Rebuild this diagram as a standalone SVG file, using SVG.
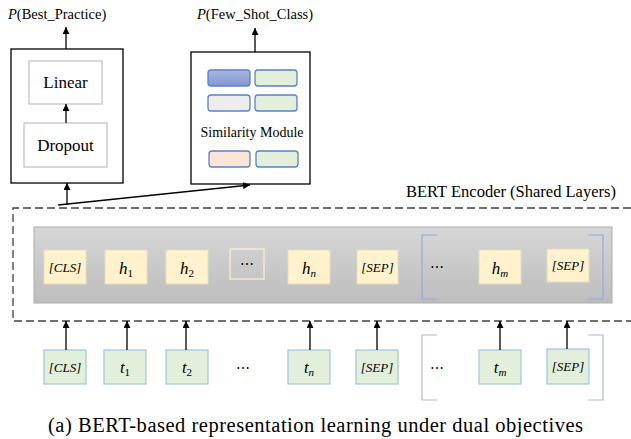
<svg xmlns="http://www.w3.org/2000/svg" width="631" height="439" viewBox="0 0 631 439">
<defs>
<marker id="ah" viewBox="0 0 10 10" refX="10" refY="5" markerWidth="7" markerHeight="7" markerUnits="userSpaceOnUse" orient="auto">
<path d="M0,0 L10,5 L0,10 z" fill="#000"/>
</marker>
<linearGradient id="gp" x1="0" y1="0" x2="0" y2="1">
<stop offset="0" stop-color="#D6D6D6"/>
<stop offset="1" stop-color="#BDBDBD"/>
</linearGradient>
<linearGradient id="gb" x1="0" y1="0" x2="0" y2="1">
<stop offset="0" stop-color="#A9B8E2"/>
<stop offset="1" stop-color="#8196D2"/>
</linearGradient>
<style>
text{font-family:'Liberation Serif','Times New Roman','DejaVu Serif',serif;fill:#000}
.box{fill:#fff;stroke:#000;stroke-width:1.3}
.inner{fill:#fff;stroke:#BFBFBF;stroke-width:1.2}
.y{fill:#FFF2CC;stroke:#E6DDBF;stroke-width:1}
.g{fill:#E2EFDA;stroke:#9DC3E6;stroke-width:1.2}
.sm{stroke:#5B7FD0;stroke-width:1.3}
.ln{stroke:#000;stroke-width:1.3;fill:none}
.dash{fill:none;stroke:#404040;stroke-width:1.3;stroke-dasharray:8 4}
.br{fill:none;stroke:#8FAADC;stroke-width:1.2}
.br2{fill:none;stroke:#ADB9CA;stroke-width:1.2}
</style>
</defs>
<rect width="631" height="439" fill="#fff"/>

<g id="label-best">
<text x="8" y="19" font-size="14.5"><tspan font-style="italic">P</tspan>(Best_Practice)</text>
</g>
<g id="label-few">
<text x="197" y="19" font-size="14.5"><tspan font-style="italic">P</tspan>(Few_Shot_Class)</text>
</g>

<g id="classifier-head">
<rect class="box" x="11" y="49" width="112" height="134"/>
<g id="linear"><rect class="inner" x="29" y="61" width="73" height="43"/>
<text x="65.5" y="88" font-size="17" text-anchor="middle">Linear</text></g>
<g id="dropout"><rect class="inner" x="24" y="123" width="83" height="44"/>
<text x="65.5" y="151" font-size="17" text-anchor="middle">Dropout</text></g>
</g>

<g id="similarity-module">
<rect class="box" x="191" y="52" width="119" height="132"/>
<rect class="sm" x="208" y="70" width="42" height="16" rx="3" fill="url(#gb)"/>
<rect class="sm" x="255" y="70" width="42" height="16" rx="3" fill="#E2EFDA"/>
<rect class="sm" x="208" y="95" width="42" height="16" rx="3" fill="#EDEDED"/>
<rect class="sm" x="255" y="95" width="42" height="16" rx="3" fill="#E2EFDA"/>
<text x="252" y="137" font-size="14" text-anchor="middle">Similarity Module</text>
<rect class="sm" x="209" y="151" width="41" height="16" rx="3" fill="#FBE5D6"/>
<rect class="sm" x="256" y="151" width="42" height="16" rx="3" fill="#E2EFDA"/>
</g>

<g id="bert-encoder">
<text x="406" y="197" font-size="16.5">BERT Encoder (Shared Layers)</text>
<path class="dash" d="M631,208 L13,208 L13,321 L631,321"/>
<rect x="34" y="227" width="578" height="76" fill="url(#gp)" stroke="#ABABAB" stroke-width="1"/>
<g id="h-cls"><rect class="y" x="44" y="250" width="42" height="34"/>
<text font-style="italic" x="65" y="272" font-size="13" text-anchor="middle">[CLS]</text></g>
<g id="h-1"><rect class="y" x="105" y="250" width="42" height="34"/>
<text font-style="italic" x="126" y="274" font-size="17" text-anchor="middle">h<tspan font-style="normal" font-size="11" dy="3">1</tspan></text></g>
<g id="h-2"><rect class="y" x="166" y="250" width="42" height="34"/>
<text font-style="italic" x="187" y="274" font-size="17" text-anchor="middle">h<tspan font-style="normal" font-size="11" dy="3">2</tspan></text></g>
<g id="h-dots"><rect x="230" y="249" width="34" height="30" fill="none" stroke="#FFF2CC" stroke-width="1.2"/>
<text x="247" y="269" font-size="14" text-anchor="middle">⋯</text></g>
<g id="h-n"><rect class="y" x="288" y="250" width="42" height="34"/>
<text font-style="italic" x="309" y="274" font-size="17" text-anchor="middle">h<tspan font-size="11" dy="3">n</tspan></text></g>
<g id="h-sep"><rect class="y" x="357" y="250" width="41" height="34"/>
<text font-style="italic" x="377.5" y="272" font-size="13" text-anchor="middle">[SEP]</text></g>
<path class="br" d="M437,235 L422,235 L422,299 L437,299"/>
<path class="br" d="M588,235 L603,235 L603,299 L588,299"/>
<text x="437" y="272" font-size="14" text-anchor="middle">⋯</text>
<g id="h-m"><rect class="y" x="479" y="250" width="42" height="34"/>
<text font-style="italic" x="500" y="274" font-size="17" text-anchor="middle">h<tspan font-size="11" dy="3">m</tspan></text></g>
<g id="h-sep2"><rect class="y" x="547" y="249" width="42" height="33"/>
<text font-style="italic" x="568" y="270" font-size="13" text-anchor="middle">[SEP]</text></g>
</g>

<g id="tokens">
<g id="t-cls"><rect class="g" x="44" y="350" width="42" height="34"/>
<text font-style="italic" x="65" y="372" font-size="13" text-anchor="middle">[CLS]</text></g>
<g id="t-1"><rect class="g" x="104" y="350" width="42" height="34"/>
<text font-style="italic" x="125" y="373" font-size="17" text-anchor="middle">t<tspan font-style="normal" font-size="11" dy="3">1</tspan></text></g>
<g id="t-2"><rect class="g" x="166" y="350" width="42" height="34"/>
<text font-style="italic" x="187" y="373" font-size="17" text-anchor="middle">t<tspan font-style="normal" font-size="11" dy="3">2</tspan></text></g>
<text x="243" y="373" font-size="14" text-anchor="middle">⋯</text>
<g id="t-n"><rect class="g" x="288" y="350" width="42" height="34"/>
<text font-style="italic" x="309" y="373" font-size="17" text-anchor="middle">t<tspan font-size="11" dy="3">n</tspan></text></g>
<g id="t-sep"><rect class="g" x="356" y="350" width="42" height="34"/>
<text font-style="italic" x="377" y="372" font-size="13" text-anchor="middle">[SEP]</text></g>
<path class="br2" d="M437,335 L422,335 L422,400 L437,400"/>
<path class="br2" d="M588,335 L603,335 L603,400 L588,400"/>
<text x="437" y="373" font-size="14" text-anchor="middle">⋯</text>
<g id="t-m"><rect class="g" x="479" y="350" width="42" height="34"/>
<text font-style="italic" x="500" y="373" font-size="17" text-anchor="middle">t<tspan font-size="11" dy="3">m</tspan></text></g>
<g id="t-sep2"><rect class="g" x="547" y="349" width="42" height="35"/>
<text font-style="italic" x="568" y="371" font-size="13" text-anchor="middle">[SEP]</text></g>
</g>

<g id="connectors">
<line class="ln" x1="66" y1="49" x2="66" y2="27" marker-end="url(#ah)"/>
<line class="ln" x1="255" y1="52" x2="255" y2="28" marker-end="url(#ah)"/>
<line class="ln" x1="66" y1="123" x2="66" y2="104" marker-end="url(#ah)"/>
<line class="ln" x1="67" y1="205" x2="67" y2="183" marker-end="url(#ah)"/>
<line class="ln" x1="58" y1="205" x2="250" y2="185" marker-end="url(#ah)"/>
<line class="ln" x1="66" y1="350" x2="66" y2="321" marker-end="url(#ah)"/>
<line class="ln" x1="127" y1="350" x2="127" y2="321" marker-end="url(#ah)"/>
<line class="ln" x1="186" y1="350" x2="186" y2="321" marker-end="url(#ah)"/>
<line class="ln" x1="310" y1="350" x2="310" y2="321" marker-end="url(#ah)"/>
<line class="ln" x1="377" y1="350" x2="377" y2="321" marker-end="url(#ah)"/>
<line class="ln" x1="500" y1="350" x2="500" y2="321" marker-end="url(#ah)"/>
<line class="ln" x1="567" y1="349" x2="567" y2="321" marker-end="url(#ah)"/>
</g>

<g id="caption">
<text x="48" y="432" font-size="20.5" textLength="535" lengthAdjust="spacing">(a) BERT-based representation learning under dual objectives</text>
</g>
</svg>
